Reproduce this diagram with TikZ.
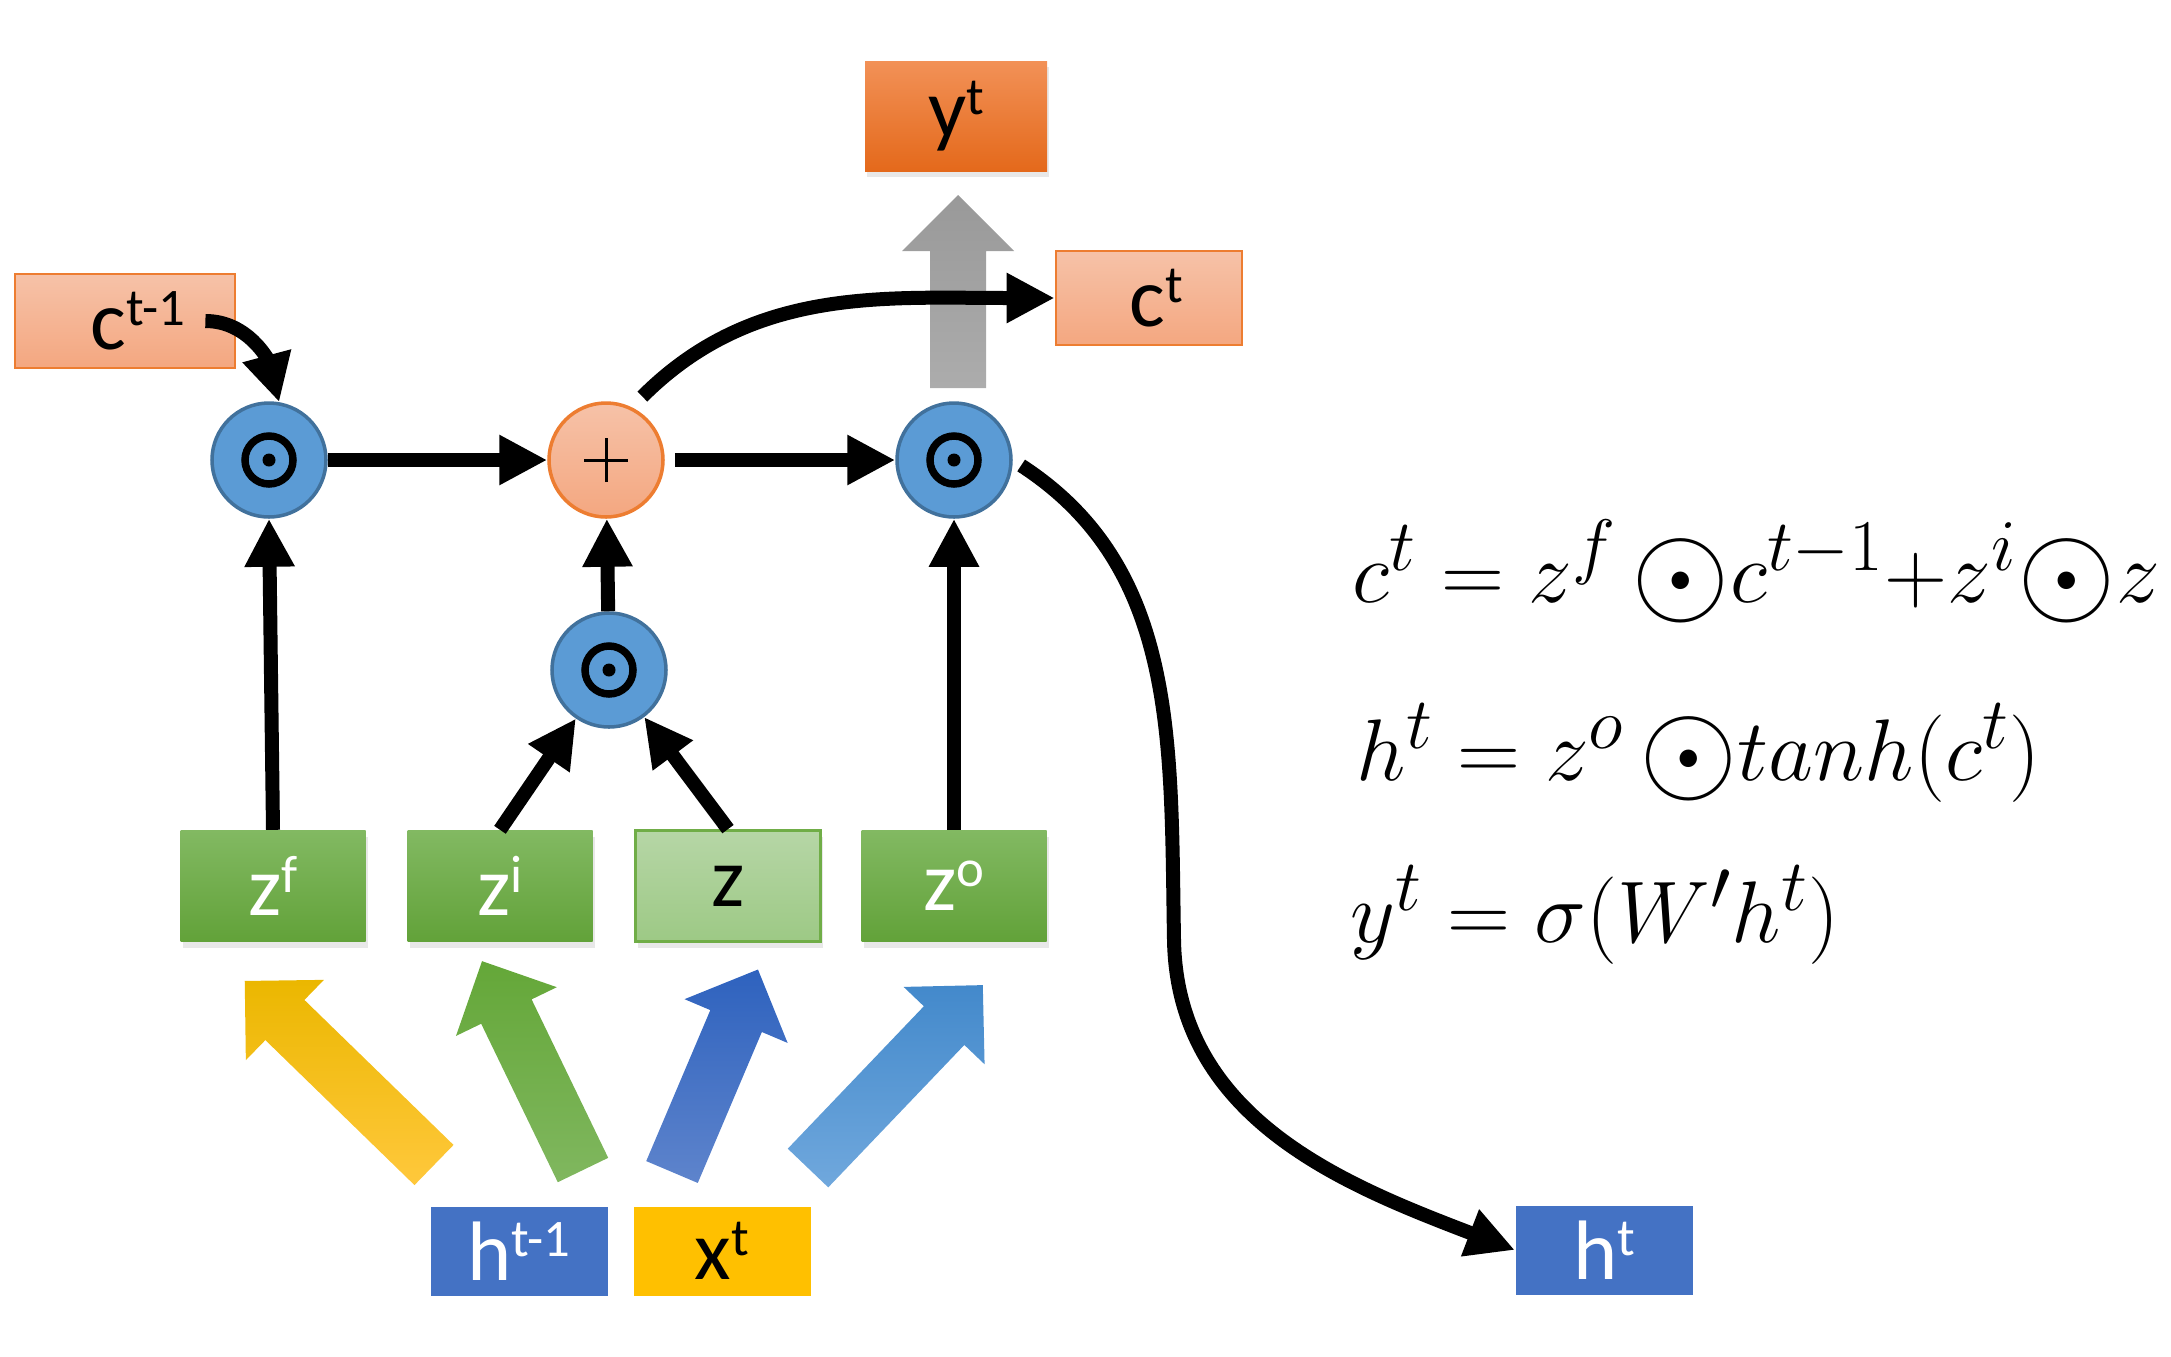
\documentclass[tikz,border=0pt]{standalone}
\usepackage{fontspec}
\setmainfont{Carlito}
\usetikzlibrary{arrows.meta,shadows}

\definecolor{cellblue}{HTML}{5B9BD5}
\definecolor{cellblueline}{HTML}{41719C}
\definecolor{peachtop}{HTML}{F6C2A8}
\definecolor{peachbot}{HTML}{F4A780}
\definecolor{orangeline}{HTML}{ED7D31}
\definecolor{outtop}{HTML}{F29157}
\definecolor{outbot}{HTML}{E4691B}
\definecolor{gatetop}{HTML}{82B962}
\definecolor{gatebot}{HTML}{62A239}
\definecolor{inputtop}{HTML}{B6D6A6}
\definecolor{inputbot}{HTML}{9DC985}
\definecolor{gateline}{HTML}{70AD47}
\definecolor{hblue}{HTML}{4472C4}
\definecolor{xgold}{HTML}{FFC000}
\definecolor{goldtop}{HTML}{EBB700}
\definecolor{goldbot}{HTML}{FFC83C}
\definecolor{leaftop}{HTML}{64A738}
\definecolor{leafbot}{HTML}{80B75F}
\definecolor{deeptop}{HTML}{2E62BE}
\definecolor{deepbot}{HTML}{5E84CC}
\definecolor{skytop}{HTML}{4389CB}
\definecolor{skybot}{HTML}{70A8DD}

\newcommand{\sups}[1]{\raisebox{0.28em}{\fontsize{15}{15}\selectfont #1}}
\newcommand{\hprod}{\mathord{\raisebox{-0.12em}{\scalebox{1.45}{$\odot$}}}}
\newcommand{\fatarrow}[5]{%
  \path[top color=#4, bottom color=#5, shift={#1}, rotate=#2]
    (0,-0.28) -- ({#3-0.56},-0.28) -- ({#3-0.56},-0.56) -- (#3,0) -- ({#3-0.56},0.56) -- ({#3-0.56},0.28) -- (0,0.28) -- cycle;}

\begin{document}
\begin{tikzpicture}[
    lbl/.style={font=\fontsize{24}{28}\selectfont, inner sep=0pt, align=center},
    cellbox/.style={lbl, minimum width=#1, minimum height=0.94cm, top color=peachtop, bottom color=peachbot, draw=orangeline, line width=0.8pt},
    gatebox/.style={lbl, minimum width=1.85cm, minimum height=1.11cm, top color=gatetop, bottom color=gatebot, text=white,
                    drop shadow={opacity=0.18, shadow xshift=0.02cm, shadow yshift=-0.06cm}},
    iobox/.style={lbl, minimum width=1.77cm, minimum height=0.89cm, fill=#1},
    prod/.style={circle, minimum size=1.14cm, inner sep=0pt, fill=cellblue, draw=cellblueline, line width=1pt,
                 path picture={\draw[black, line width=0.075cm] (path picture bounding box.center) circle (0.24);
                               \fill[black] (path picture bounding box.center) circle (0.065);}},
    sumop/.style={circle, minimum size=1.14cm, inner sep=0pt, top color=peachtop, bottom color=peachbot, draw=orangeline, line width=1pt,
                  path picture={\draw[black, line width=0.03cm] ([xshift=-0.22cm]path picture bounding box.center) -- ([xshift=0.22cm]path picture bounding box.center)
                                ([yshift=-0.22cm]path picture bounding box.center) -- ([yshift=0.22cm]path picture bounding box.center);}},
    flow/.style={line width=0.14cm, -{Triangle[length=0.48cm,width=0.47cm]}},
    eqn/.style={font=\Huge, inner sep=0pt, anchor=base west}
  ]
    \useasboundingbox (0,0) rectangle (21.71,-13.56);

    \fatarrow{(9.58,-3.88)}{90}{1.93}{gray!80}{gray!65}

    \node[cellbox=2.20cm] (cprev) at (1.25,-3.21) {\hspace*{0.26cm}c\sups{t-1}};
    \node[cellbox=1.86cm] (cnext) at (11.49,-2.98) {\hspace*{0.14cm}c\sups{t}};
    \node[lbl, minimum width=1.82cm, minimum height=1.10cm, top color=outtop, bottom color=outbot,
          drop shadow={opacity=0.18, shadow xshift=0.02cm, shadow yshift=-0.06cm}] (yout) at (9.56,-1.16) {y\sups{t}};

    \node[prod] (mul1) at (2.69,-4.60) {};
    \node[sumop] (add) at (6.06,-4.60) {};
    \node[prod] (mul2) at (9.54,-4.60) {};
    \node[prod] (mul3) at (6.09,-6.70) {};

    \node[gatebox] (zf) at (2.73,-8.86) {z\sups{f}};
    \node[gatebox] (zi) at (5.00,-8.86) {z\sups{i}};
    \node[gatebox, top color=inputtop, bottom color=inputbot, draw=gateline, line width=0.8pt, text=black, drop shadow={opacity=0}] (zz) at (7.28,-8.86) {z};
    \node[gatebox] (zo) at (9.54,-8.86) {z\sups{o}};

    \node[iobox=hblue, text=white] (hprev) at (5.19,-12.51) {h\sups{t-1}};
    \node[iobox=xgold] (xin) at (7.22,-12.51) {x\sups{t}};
    \node[iobox=hblue, text=white] (hout) at (16.04,-12.50) {h\sups{t}};

    \fatarrow{(4.34,-11.65)}{135.8}{2.64}{goldtop}{goldbot}
    \fatarrow{(5.83,-11.70)}{115.8}{2.32}{leaftop}{leafbot}
    \fatarrow{(6.72,-11.72)}{67.0}{2.20}{deeptop}{deepbot}
    \fatarrow{(8.08,-11.68)}{46.3}{2.53}{skytop}{skybot}

    \coordinate (cpout) at ([xshift=-0.31cm]cprev.east);
    \coordinate (bend) at (11.74,-9.40);

    \draw[flow] (cpout) to[out=0, in=105] (mul1.80);
    \draw[flow] (mul1) -- (add);
    \draw[flow, shorten <=0.1cm] (add) -- (mul2);
    \draw[flow, shorten <=0.15cm] (add.64) to[out=45, in=180] (cnext.west);
    \draw[flow, shorten <=0.1cm] (mul2.east) to[out=-33, in=91] (bend) to[out=-89, in=159] (hout.west);
    \draw[flow] (zf.north) -- (mul1.south);
    \draw[flow] (zo.north) -- (mul2.south);
    \draw[flow] (mul3) -- (add);
    \draw[flow] (zi.north) -- (mul3);
    \draw[flow] (zz.north) -- (mul3);

    \node[eqn] (eqc) at (13.52,-6.02) {$c^t = z^f\,\hprod c^{t-1}{+}z^i\hprod z$};
    \node[eqn] (eqh) at (13.56,-7.80) {$h^t = z^o\,\hprod tanh(c^t)$};
    \node[eqn] (eqy) at (13.50,-9.42) {$y^t = \sigma(W'h^t)$};
\end{tikzpicture}
\end{document}
